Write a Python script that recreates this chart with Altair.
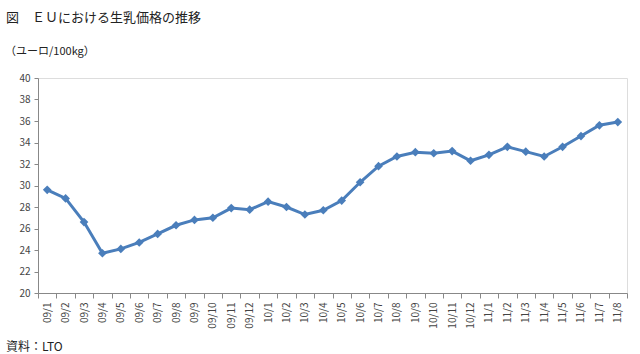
import altair as alt
import pandas as pd

months = ["09/1","09/2","09/3","09/4","09/5","09/6","09/7","09/8","09/9","09/10","09/11","09/12",
          "10/1","10/2","10/3","10/4","10/5","10/6","10/7","10/8","10/9","10/10","10/11","10/12",
          "11/1","11/2","11/3","11/4","11/5","11/6","11/7","11/8"]
prices = [29.6, 28.8, 26.6, 23.7, 24.1, 24.7, 25.5, 26.3, 26.8, 27.0, 27.9, 27.75,
          28.5, 28.0, 27.3, 27.7, 28.6, 30.3, 31.8, 32.7, 33.1, 33.0, 33.2, 32.3,
          32.85, 33.6, 33.15, 32.7, 33.6, 34.6, 35.6, 35.9]
y_ticks = [20, 22, 24, 26, 28, 30, 32, 34, 36, 38, 40]

title_text = "図　ＥＵにおける生乳価格の推移"
unit_text = "（ユーロ/100kg）"
source_text = "資料：LTO"

df = pd.DataFrame({"month": months, "price": prices})
FONT = "Noto Sans CJK JP"
COLOR = "#4a7ebb"

x_enc = alt.X("month:N", sort=months, title=None,
              scale=alt.Scale(paddingInner=0, paddingOuter=0),
              axis=alt.Axis(labelAngle=-90, labelFontSize=10, labelColor="#444",
                            labelFont=FONT, tickBand="extent", tickSize=5,
                            labelOverlap=False,
                            domainColor="#888", tickColor="#888", labelPadding=4))
y_enc = alt.Y("price:Q", title=None,
              scale=alt.Scale(domain=[20, 40], nice=False, zero=False),
              axis=alt.Axis(values=y_ticks, grid=False, labelFontSize=10, labelColor="#444",
                            labelFont=FONT, tickSize=4, domainColor="#888", tickColor="#888",
                            labelOverlap=False, labelPadding=4))

base = alt.Chart(df).encode(x=x_enc, y=y_enc)
line = base.mark_line(color=COLOR, strokeWidth=3)
pts = base.mark_point(shape="diamond", filled=True, color=COLOR, size=75, opacity=1)

title_mark = alt.Chart(pd.DataFrame({"t": [title_text]})).mark_text(
    align="left", baseline="middle", font=FONT, fontSize=13, color="#222").encode(
    text="t:N", x=alt.value(-32), y=alt.value(-60))
unit_mark = alt.Chart(pd.DataFrame({"t": [unit_text]})).mark_text(
    align="left", baseline="middle", font=FONT, fontSize=11, color="#222").encode(
    text="t:N", x=alt.value(-33), y=alt.value(-26))
src_mark = alt.Chart(pd.DataFrame({"t": [source_text]})).mark_text(
    align="left", baseline="middle", font=FONT, fontSize=12, color="#222").encode(
    text="t:N", x=alt.value(-32), y=alt.value(269))

chart = alt.layer(line, pts, title_mark, unit_mark, src_mark).properties(
    width=589, height=215,
    autosize=alt.AutoSizeParams(type="none"),
    padding={"left": 38, "top": 78, "right": 13, "bottom": 61},
).configure_view(stroke=None).configure(background="white")

chart.save("out.html", embed_options={"renderer": "svg", "actions": False})
